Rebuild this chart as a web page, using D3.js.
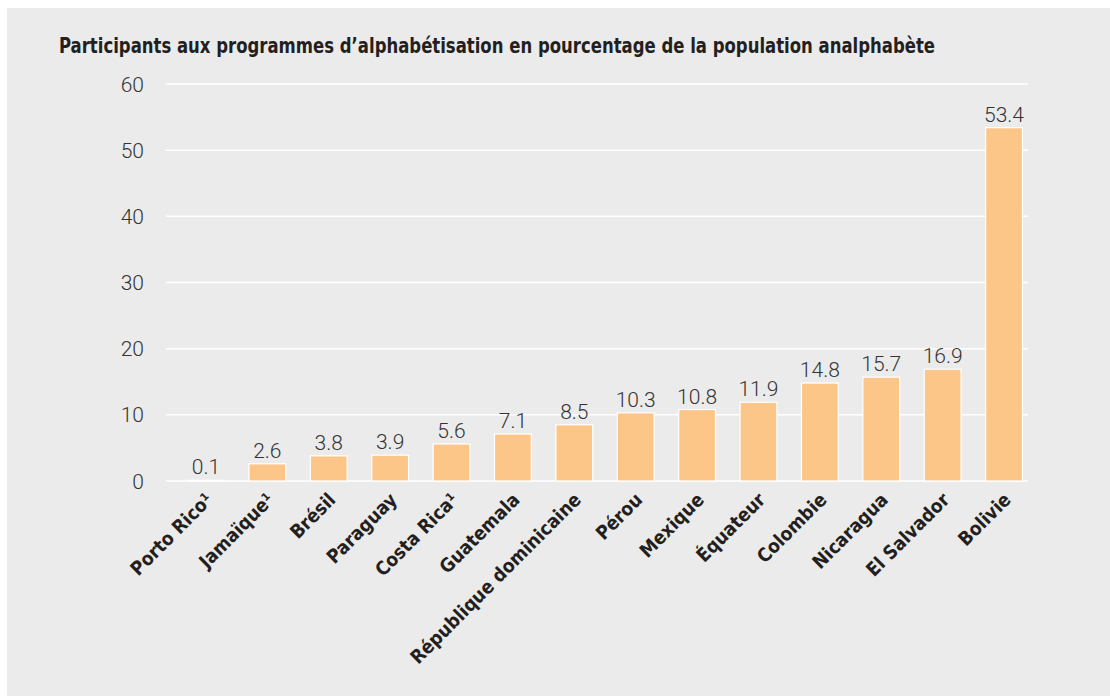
<!DOCTYPE html>
<html>
<head>
<meta charset="utf-8">
<script src="https://cdn.jsdelivr.net/npm/d3@7"></script>
<style>
  html, body { margin: 0; padding: 0; background: #fff; }
  svg text { font-family: 'DejaVu Sans Condensed', 'DejaVu Sans', sans-serif; }
  svg text.num { font-family: Roboto, 'DejaVu Sans Condensed', sans-serif; font-weight: 300; }
</style>
</head>
<body>
<svg id="chart" width="1110" height="696"></svg>
<script>
var title = 'Participants aux programmes d\u2019alphabétisation en pourcentage de la population analphabète'

var countries = ['Porto Rico¹', 'Jamaïque¹', 'Brésil', 'Paraguay', 'Costa Rica¹', 'Guatemala',
  'République dominicaine', 'Pérou', 'Mexique', 'Équateur', 'Colombie', 'Nicaragua',
  'El Salvador', 'Bolivie']
var values = [0.1, 2.6, 3.8, 3.9, 5.6, 7.1, 8.5, 10.3, 10.8, 11.9, 14.8, 15.7, 16.9, 53.4]
var yTicks = [0, 10, 20, 30, 40, 50, 60]

var data = countries.map(function (c, i) { return { name: c, value: values[i] } })

var svg = d3.select('#chart')

// grey panel
svg.append('rect')
  .attr('x', 7).attr('y', 8)
  .attr('width', 1103).attr('height', 688)
  .attr('fill', '#ebebeb')

// title, squeezed to the width of the condensed original
svg.append('text')
  .attr('x', 59).attr('y', 53)
  .attr('font-size', 20.5)
  .attr('font-weight', 'bold')
  .attr('fill', '#231f20')
  .attr('textLength', 876)
  .attr('lengthAdjust', 'spacingAndGlyphs')
  .text(title)

var gridLeft = 166
var gridRight = 1028

var y = d3.scaleLinear().domain([0, 60]).range([481, 84])
var x = d3.scaleBand()
  .domain(countries)
  .range([163, 1047])
  .paddingInner(0.4)
  .paddingOuter(0.4)

// gridlines
svg.append('g')
  .selectAll('line')
  .data(yTicks)
  .join('line')
  .attr('x1', gridLeft)
  .attr('x2', gridRight)
  .attr('y1', (d) => y(d))
  .attr('y2', (d) => y(d))
  .attr('stroke', '#fff')
  .attr('stroke-width', 1.5)

// tick labels
svg.append('g')
  .selectAll('text')
  .data(yTicks)
  .join('text')
  .attr('class', 'num')
  .attr('x', 144)
  .attr('y', (d) => y(d))
  .attr('dy', '0.36em')
  .attr('text-anchor', 'end')
  .attr('font-size', 21)
  .attr('fill', '#333')
  .text((d) => d)

// bars
svg.append('g')
  .selectAll('rect')
  .data(data)
  .join('rect')
  .attr('x', (d) => x(d.name))
  .attr('width', x.bandwidth())
  .attr('y', (d) => y(d.value))
  .attr('height', (d) => y(0) - y(d.value))
  .attr('fill', '#fdc689')
  .attr('stroke', '#fff')
  .attr('stroke-width', 1.2)

// value labels
svg.append('g')
  .selectAll('text')
  .data(data)
  .join('text')
  .attr('class', 'num')
  .attr('x', (d) => x(d.name) + x.bandwidth() / 2)
  .attr('y', (d) => y(d.value) - 6)
  .attr('text-anchor', 'middle')
  .attr('font-size', 21)
  .attr('fill', '#333')
  .text((d) => d.value.toFixed(1))

// category labels, rotated
svg.append('g')
  .selectAll('text')
  .data(data)
  .join('text')
  .attr('transform', function (d) {
    var cx = x(d.name) + x.bandwidth() / 2 + 8
    return 'translate(' + cx + ',501) rotate(-45)'
  })
  .attr('text-anchor', 'end')
  .attr('font-size', 19)
  .attr('font-weight', 'bold')
  .attr('fill', '#231f20')
  .text((d) => d.name)
</script>
</body>
</html>
